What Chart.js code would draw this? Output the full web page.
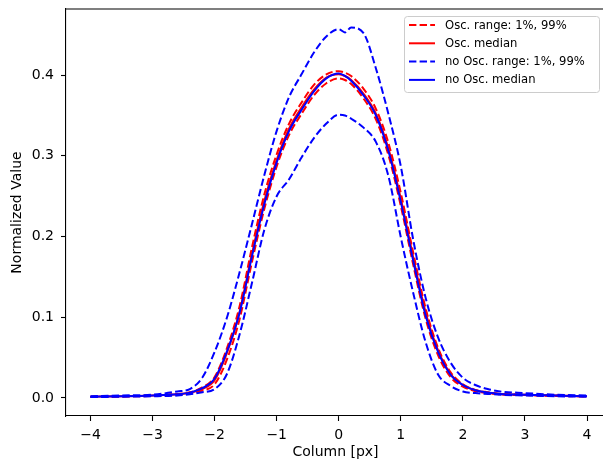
<!DOCTYPE html>
<html>
<head>
<meta charset="utf-8">
<script src="https://cdn.jsdelivr.net/npm/chart.js@4.4.1/dist/chart.umd.min.js"></script>
<style>
  html, body { margin: 0; padding: 0; background: #fff; overflow: hidden; }
  #wrap { width: 603px; height: 461px; overflow: hidden; }
  #chart { display: block; }
</style>
</head>
<body>
<div id="wrap"><canvas id="chart" width="640" height="461"></canvas></div>
<script>
// x positions (px columns) and series
const xs = [-4.0, -3.5, -3.0, -2.6, -2.4, -2.2, -2.0, -1.8, -1.6, -1.4, -1.2, -1.0, -0.8, -0.6, -0.4, -0.2,
            0.0, 0.1, 0.2, 0.4, 0.6, 0.8, 1.0, 1.2, 1.4, 1.6, 1.8, 2.0, 2.2, 2.4, 2.6, 3.0, 3.5, 4.0];

const oscHigh = [0.0015, 0.002, 0.003, 0.005, 0.007, 0.013, 0.026, 0.062, 0.113, 0.186, 0.252, 0.302, 0.340, 0.366, 0.388, 0.401,
                 0.405, 0.403, 0.399, 0.383, 0.358, 0.316, 0.254, 0.180, 0.111, 0.062, 0.032, 0.017, 0.010, 0.007, 0.005, 0.004, 0.003, 0.002];
const oscLow  = [0.0012, 0.0018, 0.0025, 0.004, 0.0055, 0.009, 0.017, 0.048, 0.097, 0.168, 0.234, 0.287, 0.326, 0.352, 0.375, 0.390,
                 0.396, 0.394, 0.389, 0.371, 0.345, 0.301, 0.238, 0.165, 0.098, 0.053, 0.026, 0.014, 0.0085, 0.006, 0.0045, 0.0035, 0.0025, 0.0018];
const oscMed  = [0.0015, 0.002, 0.003, 0.0045, 0.0065, 0.011, 0.022, 0.056, 0.106, 0.178, 0.244, 0.295, 0.334, 0.360, 0.382, 0.397,
                 0.401, 0.399, 0.394, 0.377, 0.352, 0.309, 0.247, 0.174, 0.106, 0.059, 0.030, 0.016, 0.0095, 0.0065, 0.005, 0.004, 0.003, 0.002];

const noOscHigh = [0.002, 0.003, 0.004, 0.008, 0.011, 0.025, 0.057, 0.100, 0.155, 0.215, 0.276, 0.331, 0.373, 0.401, 0.428, 0.448,
                   0.457, 0.453, 0.459, 0.452, 0.408, 0.352, 0.287, 0.196, 0.124, 0.075, 0.044, 0.025, 0.016, 0.011, 0.008, 0.006, 0.004, 0.003];
const noOscLow  = [0.001, 0.0015, 0.002, 0.003, 0.0045, 0.007, 0.011, 0.030, 0.078, 0.142, 0.208, 0.250, 0.271, 0.298, 0.322, 0.340,
                   0.351, 0.350, 0.346, 0.335, 0.317, 0.275, 0.199, 0.130, 0.069, 0.029, 0.015, 0.008, 0.006, 0.005, 0.004, 0.003, 0.002, 0.0015];
const noOscMed  = [0.0015, 0.002, 0.003, 0.0045, 0.0066, 0.012, 0.024, 0.058, 0.105, 0.175, 0.240, 0.292, 0.331, 0.357, 0.380, 0.396,
                   0.402, 0.399, 0.393, 0.375, 0.350, 0.306, 0.243, 0.170, 0.102, 0.057, 0.029, 0.016, 0.0095, 0.0066, 0.005, 0.004, 0.003, 0.002];

const xTicks = [-4, -3, -2, -1, 0, 1, 2, 3, 4];
const yTicks = [0.0, 0.1, 0.2, 0.3, 0.4];

const FONT = "'DejaVu Sans', sans-serif";
const DASH = [7.4, 3.2];

function pts(ys) { return xs.map((x, i) => ({ x: x, y: ys[i] })); }

function series(label, ys, color, dashed, order, inLegend) {
  return {
    label: label,
    data: pts(ys),
    borderColor: color,
    backgroundColor: color,
    borderWidth: 2,
    borderDash: dashed ? DASH : [],
    pointRadius: 0,
    cubicInterpolationMode: "monotone",
    fill: false,
    order: order,
    inLegend: inLegend
  };
}

// top spine and an in-axes legend box
const framePlugin = {
  id: "frame",
  afterDraw(chart) {
    const { ctx, chartArea: a } = chart;
    ctx.save();
    ctx.strokeStyle = "#000";
    ctx.lineWidth = 1.1;
    ctx.beginPath();
    ctx.moveTo(a.left, a.top);
    ctx.lineTo(a.right, a.top);
    ctx.stroke();

    // legend
    const w = 195, h = 76;
    const bx = 404, by = 16;
    ctx.beginPath();
    ctx.roundRect(bx + 0.5, by + 0.5, w, h, 3);
    ctx.fillStyle = "rgba(255,255,255,0.8)";
    ctx.fill();
    ctx.strokeStyle = "#cccccc";
    ctx.lineWidth = 1;
    ctx.stroke();

    const items = chart.data.datasets.filter(d => d.inLegend);
    ctx.font = "11.6px " + FONT;
    ctx.textBaseline = "middle";
    items.forEach((d, i) => {
      const y = by + 9 + i * 18.3;
      ctx.beginPath();
      ctx.setLineDash(d.borderDash);
      ctx.strokeStyle = d.borderColor;
      ctx.lineWidth = 2;
      ctx.moveTo(bx + 5, y);
      ctx.lineTo(bx + 31, y);
      ctx.stroke();
      ctx.setLineDash([]);
      ctx.fillStyle = "#000";
      ctx.fillText(d.label, bx + 41, y + 0.5);
    });
    ctx.restore();
  }
};

const ctx = document.getElementById("chart").getContext("2d");
new Chart(ctx, {
  type: "line",
  data: {
    datasets: [
      series("Osc. range: 1%, 99%", oscHigh, "#ff0000", true, 6, true),
      series("Osc. range low", oscLow, "#ff0000", true, 5, false),
      series("Osc. median", oscMed, "#ff0000", false, 4, true),
      series("no Osc. range: 1%, 99%", noOscHigh, "#0000ff", true, 3, true),
      series("no Osc. range low", noOscLow, "#0000ff", true, 2, false),
      series("no Osc. median", noOscMed, "#0000ff", false, 1, true)
    ]
  },
  options: {
    responsive: false,
    devicePixelRatio: 1,
    animation: false,
    layout: { padding: { left: 0, top: 9, right: 35, bottom: 0 } },
    plugins: { legend: { display: false }, tooltip: { enabled: false } },
    scales: {
      x: {
        type: "linear",
        min: -4.395,
        max: 4.29,
        afterBuildTicks: s => { s.ticks = xTicks.map(v => ({ value: v })); },
        afterFit: s => { s.height = 45; s.paddingLeft = 0; s.paddingRight = 0; },
        ticks: {
          autoSkip: false,
          maxRotation: 0,
          padding: 6,
          color: "#000",
          font: { family: FONT, size: 14 },
          callback: v => (v < 0 ? "\u2212" + Math.abs(v) : String(v))
        },
        grid: { drawOnChartArea: false, tickLength: 5, tickColor: "#000", tickWidth: 1.1 },
        border: { color: "#000", width: 1.1 },
        title: { display: true, text: "Column [px]", color: "#000", font: { family: FONT, size: 14 }, padding: 0 }
      },
      y: {
        type: "linear",
        min: -0.0224,
        max: 0.482,
        afterBuildTicks: s => { s.ticks = yTicks.map(v => ({ value: v })); },
        afterFit: s => { s.width = 66; s.paddingTop = 0; s.paddingBottom = 0; },
        ticks: {
          padding: 7,
          color: "#000",
          font: { family: FONT, size: 14 },
          callback: v => v.toFixed(1)
        },
        grid: { drawOnChartArea: false, tickLength: 5, tickColor: "#000", tickWidth: 1.1 },
        border: { color: "#000", width: 1.1 },
        title: { display: true, text: "Normalized Value", color: "#000", font: { family: FONT, size: 14 }, padding: { top: 9, bottom: 0 } }
      }
    }
  },
  plugins: [framePlugin]
});
</script>
</body>
</html>
